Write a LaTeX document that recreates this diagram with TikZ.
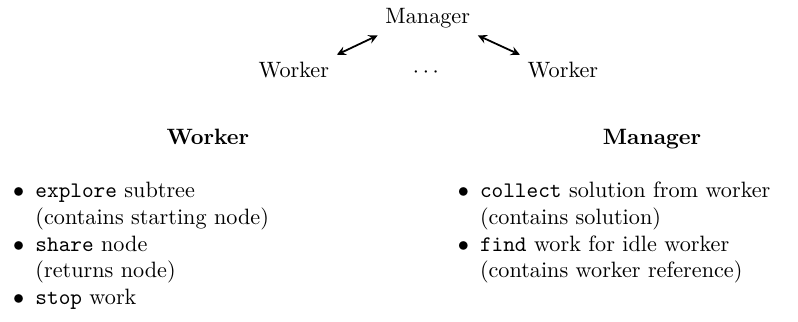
\documentclass[tikz,border=0pt]{standalone}
\usepackage{amsmath}
\usetikzlibrary{arrows}

\newcommand{\itembullet}{\leavevmode\llap{$\bullet$\hspace{0.5em}}}

\begin{document}
\begin{tikzpicture}[>=stealth]
  \useasboundingbox (0,0) rectangle (12.63,-5.095);

  \tikzstyle{RoleStyle}=[anchor=base]
  \tikzstyle{HeadStyle}=[anchor=base,font=\bfseries]
  \tikzstyle{ListStyle}=[anchor=base west,inner sep=0pt,text width=5.5cm,align=left]
  \tikzstyle{EdgeStyle}=[<->,thick]

  \node[RoleStyle] (mgr) at (6.77,-0.364) {Manager};
  \node[RoleStyle] (wl) at (4.65,-1.234) {Worker};
  \node[RoleStyle] (dots) at (6.77,-1.234) {$\cdots$};
  \node[RoleStyle] (wr) at (8.91,-1.234) {Worker};

  \draw[EdgeStyle] (wl.north east) -- (mgr.south west);
  \draw[EdgeStyle] (mgr.south east) -- (wr.north west);

  \node[HeadStyle] (whead) at (3.29,-2.294) {Worker};
  \node[HeadStyle] (mhead) at (10.32,-2.294) {Manager};

  \node[ListStyle] (wlist) at (0.554,-3.13) {%
    \itembullet\texttt{explore} subtree\\
    (contains starting node)\\
    \itembullet\texttt{share} node\\
    (returns node)\\
    \itembullet\texttt{stop} work};
  \node[ListStyle] (mlist) at (7.59,-3.13) {%
    \itembullet\texttt{collect} solution from worker\\
    (contains solution)\\
    \itembullet\texttt{find} work for idle worker\\
    (contains worker reference)};
\end{tikzpicture}
\end{document}
